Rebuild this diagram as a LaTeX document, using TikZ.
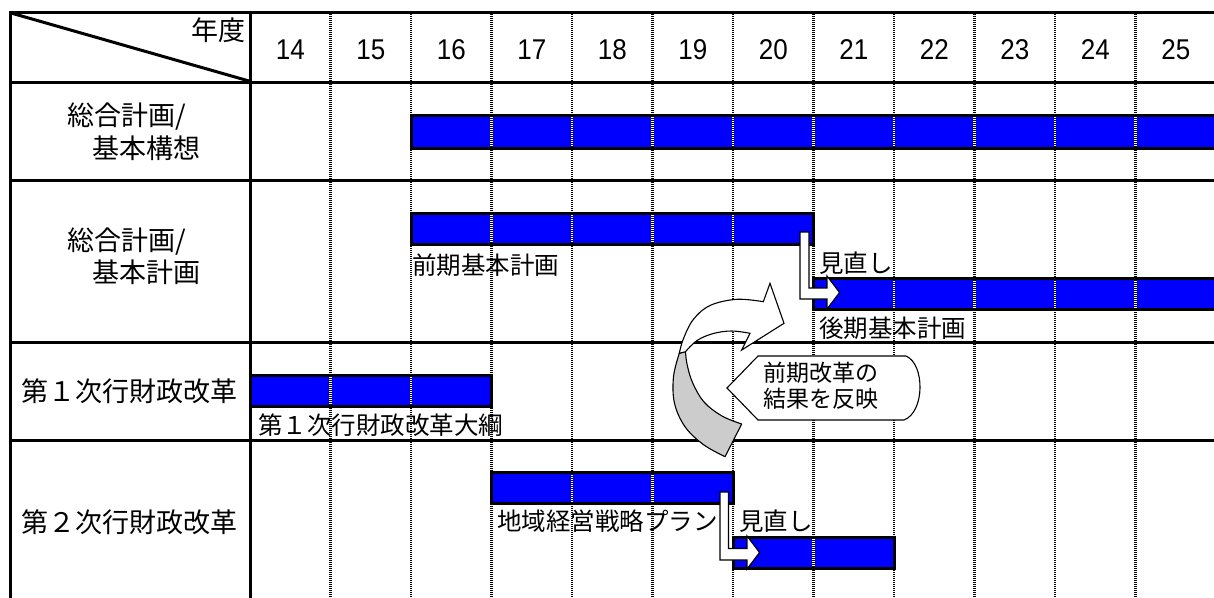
\documentclass[tikz,border=0pt]{standalone}
\usepackage{fontspec}
\setmainfont{Liberation Sans}
\newfontfamily\jp{Noto Sans CJK JP}
\definecolor{barblue}{RGB}{0,0,255}
\definecolor{backgray}{RGB}{204,204,204}
\begin{document}
\begin{tikzpicture}[x=1pt,y=-1pt,
  frame/.style={line width=3pt,black},
  barfill/.style={fill=barblue},
  barline/.style={line width=3pt,black},
  gridw/.style={line width=2.6pt,white},
  gridb/.style={line width=2.6pt,black,dash pattern=on 1.3pt off 0.7pt},
  rowlab/.style={font=\jp\fontsize{27}{30}\selectfont,inner sep=0pt,anchor=west},
  barlab/.style={font=\jp\fontsize{24.5}{28}\selectfont,inner sep=0pt,anchor=west},
  yearlab/.style={font=\fontsize{26}{28}\selectfont,inner sep=0pt},
  blockarrow/.style={draw=black,line width=1.1pt,fill=white,line join=miter},
]
\clip (0,0) rectangle (1214,597);
\fill[white] (0,0) rectangle (1214,597);

% bar fills
\fill[barfill] (411,115.5) rectangle (1222,148);
\fill[barfill] (411,213.5) rectangle (813.5,244.5);
\fill[barfill] (813.5,278.5) rectangle (1222,309.5);
\fill[barfill] (250,375) rectangle (491.5,406.5);
\fill[barfill] (491.5,472) rectangle (733,503);
\fill[barfill] (733,537.5) rectangle (894,568.5);

% dotted grid
\foreach \k in {0,...,10}{
  \pgfmathsetmacro{\gx}{330.5+80.5*\k}
  \draw[gridw] (\gx,12) -- (\gx,600);
  \draw[gridb] (\gx,12) -- (\gx,600);
}

% bar outlines
\draw[barline] (411,115.5) rectangle (1222,148);
\draw[barline] (411,213.5) rectangle (813.5,244.5);
\draw[barline] (813.5,278.5) rectangle (1222,309.5);
\draw[barline] (250,375) rectangle (491.5,406.5);
\draw[barline] (491.5,472) rectangle (733,503);
\draw[barline] (733,537.5) rectangle (894,568.5);

% frame
\draw[frame] (1220,12) -- (10,12) -- (10,600);
\draw[frame] (250,12) -- (250,600);
\foreach \yy in {82,180,342,440}{
  \draw[frame] (10,\yy) -- (1220,\yy);
}
\draw[line width=3pt] (11,13) -- (249,81);

% header
\node[rowlab,anchor=east] (nendo) at (246,30) {年度};
\foreach \k/\yr in {0/14,1/15,2/16,3/17,4/18,5/19,6/20,7/21,8/22,9/23,10/24,11/25}{
  \pgfmathsetmacro{\cx}{250+80.5*(\k+0.5)}
  \node[yearlab] (y\yr) at (\cx,49.5) {\scalebox{1}[1.1]{\yr}};
}

% row labels
\node[rowlab] (r1a) at (67,117) {総合計画/};
\node[rowlab] (r1b) at (92,148) {基本構想};
\node[rowlab] (r2a) at (67,242) {総合計画/};
\node[rowlab] (r2b) at (92,272) {基本計画};
\node[rowlab] (r3) at (21,391) {第１次行財政改革};
\node[rowlab] (r4) at (21,522) {第２次行財政改革};

% bar labels
\node[barlab] (l2a) at (412,265) {前期基本計画};
\node[barlab] (m2) at (819,263) {見直し};
\node[barlab] (l2b) at (819,328) {後期基本計画};
\node[barlab] (l3) at (258,425) {第１次行財政改革大綱};
\node[barlab] (l4a) at (497,521) {地域経営戦略プラン};
\node[barlab] (m4) at (739,521) {見直し};

% elbow arrows
\draw[blockarrow] (800,232) -- (809,232) -- (809,288) -- (827,288) -- (827,276)
  -- (839.5,292.5) -- (827,309) -- (827,299) -- (800,299) -- cycle;
\draw[blockarrow] (720,492) -- (728.5,492) -- (728.5,548.5) -- (747,548.5) -- (747,536)
  -- (759.5,552.5) -- (747,569) -- (747,560) -- (720,560) -- cycle;

% curved arrow: back (gray) part
\draw[draw=black,line width=1.1pt,fill=backgray,line join=round]
  plot[smooth,tension=0.6] coordinates {(679.3,353.3) (673.5,376.7) (674.5,403.3) (685,426.7) (703.3,444.5) (725,456.7)}
  -- (741.7,424)
  -- plot[smooth,tension=0.6] coordinates {(741.7,424) (722,416) (704,402) (692.5,382.5) (687,364) (685.5,351.7)}
  -- cycle;
% curved arrow: front (white) part
\draw[blockarrow]
  (763.3,301.7) -- (770,283.3) -- (784,323.3) -- (741.7,350) -- (750,333.3)
  -- plot[smooth,tension=0.6] coordinates {(750,333.3) (731.7,331) (713.3,333.5) (697,340.5) (685.5,351.7)}
  -- (679.3,353.3)
  -- plot[smooth,tension=0.6] coordinates {(679.3,353.3) (683.3,339) (693.3,319.5) (710,305.5) (736.7,299.3) (763.3,301.7)}
  -- cycle;

% callout
\draw[blockarrow] (727,388) -- (758,356) -- (906,356)
  .. controls (925,364) and (925,412) .. (904,420) -- (758,420) -- cycle;
\node[font=\jp\fontsize{23}{26}\selectfont,inner sep=0pt,align=center] (callout) at (821,385.5) {前期改革の\\結果を反映};
\end{tikzpicture}
\end{document}
